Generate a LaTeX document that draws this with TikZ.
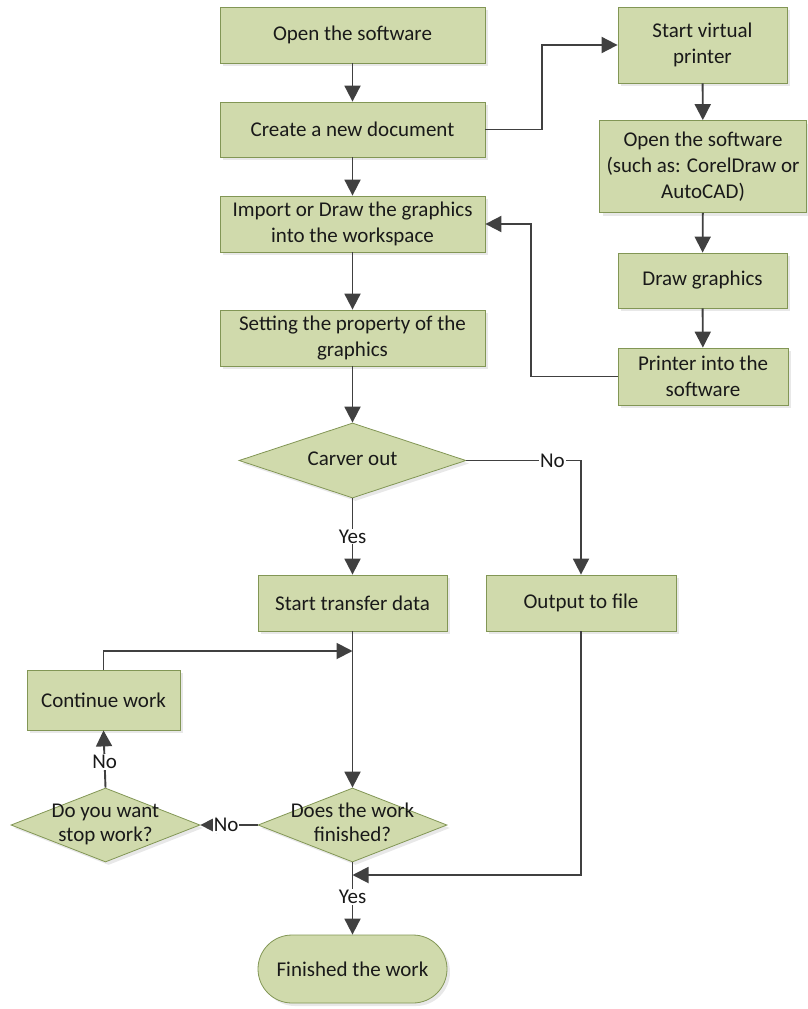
\documentclass[tikz,border=0pt]{standalone}
\usepackage{fontspec}
\setmainfont{Carlito}
\usetikzlibrary{shapes.geometric,arrows.meta,shadows}
\definecolor{boxfill}{RGB}{208,218,172}
\definecolor{boxline}{RGB}{130,150,85}
\definecolor{arrowc}{RGB}{64,64,64}
\definecolor{textc}{RGB}{25,25,25}
\newcommand{\dtxt}[1]{\makebox[0pt][c]{\begin{tabular}{@{}c@{}}#1\end{tabular}}}
\begin{document}
\begin{tikzpicture}[x=1pt,y=-1pt,
  shp/.style={draw=boxline, fill=boxfill, line width=0.8pt, text=textc,
    font=\fontsize{21}{26}\selectfont, align=center, inner sep=0pt,
    drop shadow={shadow xshift=3pt, shadow yshift=-3pt, fill=black!18}},
  box/.style={shp, rectangle},
  dec/.style={shp, diamond, font=\fontsize{21}{24}\selectfont},
  term/.style={shp, rectangle, rounded corners=34pt},
  arr/.style={-{Triangle[length=16pt,width=16pt]}, line width=1.9pt, draw=arrowc},
  lab/.style={fill=white, inner sep=1pt, text=textc, font=\fontsize{21}{24}\selectfont}]
\useasboundingbox (0,0) rectangle (808,1009);
% left column
\node[box, minimum width=265pt, minimum height=56pt] (n1) at (352.5,35) {Open the software};
\node[box, minimum width=265pt, minimum height=55pt] (n2) at (352.5,129.5) {Create a new document};
\node[box, minimum width=265pt, minimum height=56pt] (n3) at (352.5,224) {Import or Draw the graphics\\into the workspace};
\node[box, minimum width=265pt, minimum height=56pt] (n4) at (352.5,338) {Setting the property of the\\graphics};
\node[dec, minimum width=227pt, minimum height=75pt] (d1) at (352.5,460.5) {\dtxt{Carver out}};
\node[box, minimum width=189pt, minimum height=56pt] (st) at (352.5,603) {Start transfer data};
\node[box, minimum width=190pt, minimum height=56pt] (out) at (581,603) {Output to file};
\node[box, minimum width=153pt, minimum height=60pt] (cw) at (103.5,700) {Continue work};
\node[dec, minimum width=189pt, minimum height=74pt] (d2) at (352.5,825) {\dtxt{Does the work\\finished?}};
\node[dec, minimum width=189pt, minimum height=74pt] (d3) at (105.5,825) {\dtxt{Do you want\\stop work?}};
\node[term, minimum width=189pt, minimum height=68pt] (fin) at (352.5,969) {Finished the work};
% right column
\node[box, minimum width=169pt, minimum height=76pt] (sv) at (702.5,45) {Start virtual\\printer};
\node[box, minimum width=207pt, minimum height=92pt] (os) at (703,166.5) {Open the software\\(such as: CorelDraw or\\AutoCAD)};
\node[box, minimum width=169pt, minimum height=55pt] (dg) at (702.5,280.5) {Draw graphics};
\node[box, minimum width=170pt, minimum height=57pt] (pr) at (703,376.5) {Printer into the\\software};
\coordinate (j1) at (352.5,651);
\coordinate (j2) at (352.5,875);
% connectors
\draw[arr] (n1) -- (n2);
\draw[arr] (n2) -- (n3);
\draw[arr] (n3) -- (n4);
\draw[arr] (n4) -- (d1);
\draw[arr] (n2.east) -- ++(57,0) |- (sv.west);
\draw[arr] (sv) -- (os);
\draw[arr] (os) -- (dg);
\draw[arr] (dg) -- (pr);
\draw[arr] (pr.west) -- ++(-87,0) |- (n3.east);
\draw[arr] (d1) -- node[lab, pos=0.5]{Yes} (st);
\draw[arr] (d1.east) -- node[lab, pos=0.75]{No} (d1.east -| out) -- (out);
\draw[arr] (st) -- (d2);
\draw[arr] (cw.north) |- (j1);
\draw[arr] (d2.west) -- node[lab, pos=0.55]{No} (d3.east);
\draw[arr] (d3.north) -- node[lab, pos=0.45]{No} (cw.south);
\draw[arr] (out.south) |- (j2);
\draw[arr] (d2) -- node[lab, pos=0.48]{Yes} (fin);
\end{tikzpicture}
\end{document}
